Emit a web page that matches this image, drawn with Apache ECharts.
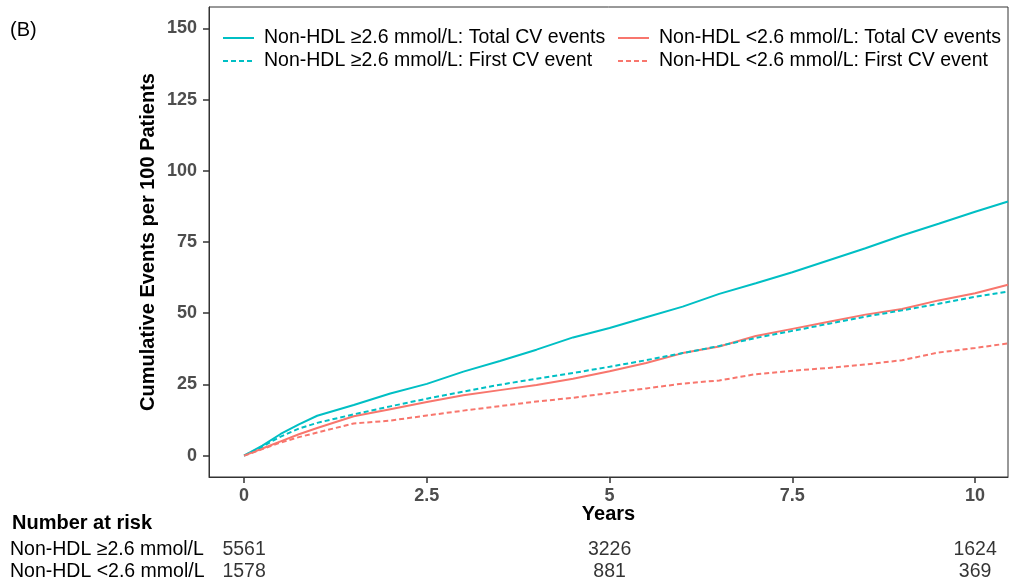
<!DOCTYPE html>
<html>
<head>
<meta charset="utf-8">
<script src="https://cdn.jsdelivr.net/npm/echarts@6/dist/echarts.min.js"></script>
<style>html,body{margin:0;padding:0;background:#fff}#c{width:1012px;height:583px}</style>
</head>
<body>
<div id="c"></div>
<script>
// ---- data ----
var years = [0, 0.25, 0.5, 0.75, 1, 1.5, 2, 2.5, 3, 3.5, 4, 4.5, 5, 5.5, 6, 6.5, 7, 7.5, 8, 8.5, 9, 9.5, 10, 10.45];
var highTotal = [0, 3.5, 7.6, 11.0, 14.0, 17.8, 21.8, 25.2, 29.5, 33.2, 37.2, 41.5, 44.8, 48.6, 52.3, 56.8, 60.5, 64.4, 68.6, 72.8, 77.3, 81.4, 85.6, 89.2];
var highFirst = [0, 3.2, 6.7, 9.5, 11.5, 14.5, 17.3, 20.0, 22.5, 24.9, 27.0, 29.0, 31.2, 33.5, 36.0, 38.5, 41.3, 43.8, 46.3, 48.8, 51.0, 53.3, 55.8, 57.6];
var lowTotal = [0, 2.5, 5.0, 7.5, 9.7, 13.8, 16.3, 18.8, 21.2, 23.0, 24.8, 27.0, 29.6, 32.5, 36.0, 38.3, 42.0, 44.5, 47.0, 49.5, 51.5, 54.5, 57.0, 60.0];
var lowFirst = [0, 2.3, 4.6, 6.5, 8.1, 11.3, 12.3, 14.1, 15.8, 17.4, 19.0, 20.3, 22.0, 23.6, 25.3, 26.4, 28.6, 29.8, 30.8, 32.0, 33.5, 36.2, 37.8, 39.4];
var seriesNames = ['Non-HDL \u22652.6 mmol/L: Total CV events', 'Non-HDL \u22652.6 mmol/L: First CV event',
                   'Non-HDL <2.6 mmol/L: Total CV events', 'Non-HDL <2.6 mmol/L: First CV event'];
var xTicks = [0, 2.5, 5, 7.5, 10];
var yTicks = [0, 25, 50, 75, 100, 125, 150];
var riskGroups = ['Non-HDL \u22652.6 mmol/L', 'Non-HDL <2.6 mmol/L'];
var riskTimes = [0, 5, 10];
var riskHigh = [5561, 3226, 1624];
var riskLow = [1578, 881, 369];

function pairs(ys) { return years.map(function (t, i) { return [t, ys[i]]; }); }
var riskData = [];
riskTimes.forEach(function (t, i) {
  riskData.push([t, riskGroups[0], riskHigh[i]]);
  riskData.push([t, riskGroups[1], riskLow[i]]);
});

var TEAL = '#00BFC4', RED = '#F8766D';
var FONT = 'Liberation Sans, Arial, sans-serif';

function lineSeries(name, ys, color, dashed) {
  return {
    name: name, type: 'line', xAxisIndex: 0, yAxisIndex: 0,
    data: pairs(ys), symbol: 'none', showSymbol: false, smooth: false,
    lineStyle: { color: color, width: 2, type: dashed ? [5, 3] : 'solid' },
    itemStyle: { color: color }, z: dashed ? 3 : 2
  };
}

function legendCfg(names, left) {
  return { data: names, orient: 'vertical', left: left, top: 28, padding: 0,
    itemWidth: 31, itemHeight: 14, itemGap: 3,
    itemStyle: { opacity: 0 },
    textStyle: { fontSize: 19.5, color: '#000', fontFamily: FONT, lineHeight: 20, padding: [0, 0, 0, 5] } };
}

var chart = echarts.init(document.getElementById('c'));
chart.setOption({
  animation: false,
  textStyle: { fontFamily: FONT },
  title: [
    { text: '(B)', left: 10, top: 20, padding: 0, textStyle: { fontSize: 20, fontWeight: 'normal', color: '#000', fontFamily: FONT } },
    { text: 'Number at risk', left: 12, top: 513, padding: 0, textStyle: { fontSize: 20, fontWeight: 'bold', color: '#000', fontFamily: FONT } }
  ],
  legend: [ legendCfg([seriesNames[0], seriesNames[1]], 222), legendCfg([seriesNames[2], seriesNames[3]], 617) ],
  grid: [
    { left: 209, right: 4, top: 7, bottom: 106, show: true, borderColor: '#333', borderWidth: 1, containLabel: false },
    { left: 209, right: 4, top: 539, height: 44, containLabel: false }
  ],
  xAxis: [
    { type: 'value', gridIndex: 0, min: -0.48, max: 10.45,
      name: 'Years', nameLocation: 'middle', nameGap: 27, nameMoveOverlap: false,
      nameTextStyle: { fontSize: 20, fontWeight: 'bold', color: '#000', fontFamily: FONT },
      axisLine: { show: true, onZero: false, lineStyle: { color: '#333', width: 1 } },
      axisTick: { show: true, customValues: xTicks, length: 6, lineStyle: { color: '#333', width: 1.5 } },
      axisLabel: { customValues: xTicks, fontSize: 18, fontWeight: 'bold', color: '#4d4d4d', margin: 10,
        fontFamily: FONT, formatter: function (v) { return String(v); } },
      splitLine: { show: false } },
    { type: 'value', gridIndex: 1, min: -0.48, max: 10.45, show: false }
  ],
  yAxis: [
    { type: 'value', gridIndex: 0, min: -7.5, max: 157.5,
      name: 'Cumulative Events per 100 Patients', nameLocation: 'middle', nameGap: 51, nameRotate: 90, nameMoveOverlap: false,
      nameTextStyle: { fontSize: 20, fontWeight: 'bold', color: '#000', fontFamily: FONT },
      axisLine: { show: true, onZero: false, lineStyle: { color: '#333', width: 1 } },
      axisTick: { show: true, customValues: yTicks, length: 6, lineStyle: { color: '#333', width: 1.5 } },
      axisLabel: { customValues: yTicks, fontSize: 18, fontWeight: 'bold', color: '#4d4d4d', margin: 12, fontFamily: FONT },
      splitLine: { show: false } },
    { type: 'category', gridIndex: 1, data: riskGroups, inverse: true,
      axisLine: { show: false }, axisTick: { show: false }, splitLine: { show: false },
      axisLabel: { interval: 0, hideOverlap: false, align: 'left', margin: 199, fontSize: 19.5, color: '#000', fontFamily: FONT } }
  ],
  series: [
    lineSeries(seriesNames[0], highTotal, TEAL, false),
    lineSeries(seriesNames[1], highFirst, TEAL, true),
    lineSeries(seriesNames[2], lowTotal, RED, false),
    lineSeries(seriesNames[3], lowFirst, RED, true),
    { type: 'scatter', xAxisIndex: 1, yAxisIndex: 1, data: riskData, symbolSize: 0.01,
      itemStyle: { color: 'transparent' }, clip: false, silent: true,
      label: { show: true, position: 'inside', fontSize: 19.5, color: '#000', fontFamily: FONT,
        formatter: function (p) { return String(p.value[2]); } } }
  ]
});
</script>
</body>
</html>
